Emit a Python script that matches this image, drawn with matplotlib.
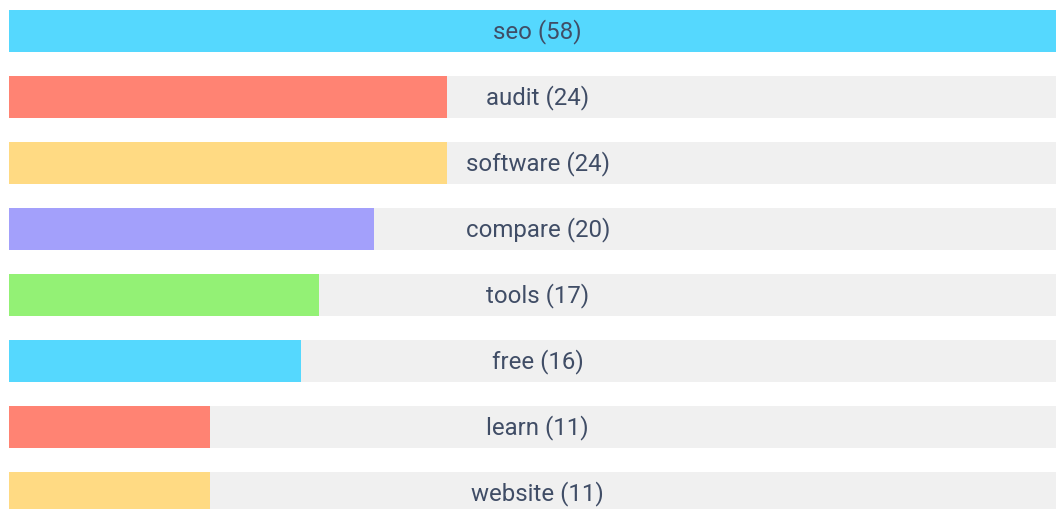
import matplotlib

matplotlib.use("Agg")
import matplotlib.pyplot as plt

plt.rcParams["font.family"] = ["Roboto", "DejaVu Sans"]

# keyword counts, top to bottom
KEYWORDS = ["seo", "audit", "software", "compare", "tools", "free", "learn", "website"]
COUNTS = [58, 24, 24, 20, 17, 16, 11, 11]

PALETTE = ["#55d8fe", "#ff8373", "#ffda83", "#a3a0fb", "#93f175"]
TRACK = "#f0f0f0"
TEXT = "#404d66"

fig = plt.figure(figsize=(10.56, 5.10), dpi=100)
ax = fig.add_axes([9 / 1056, 0, 1 - 9 / 1056, 1])

x_max = 57.4
bar_h = 42 / 66
rows = range(len(KEYWORDS))

ax.barh(list(rows), [x_max] * len(KEYWORDS), height=bar_h, color=TRACK, linewidth=0)
ax.barh(
    list(rows),
    COUNTS,
    height=bar_h,
    color=[PALETTE[i % len(PALETTE)] for i in rows],
    linewidth=0,
)
for i, (word, count) in zip(rows, zip(KEYWORDS, COUNTS)):
    ax.text(
        0.505,
        i,
        f"{word} ({count})",
        transform=ax.get_yaxis_transform(),
        ha="center",
        va="center",
        fontsize=17.3,
        color=TEXT,
    )

ax.set_xlim(0, x_max)
ax.set_ylim((510 - 31.8) / 66, -31.8 / 66)
ax.axis("off")
fig.patch.set_facecolor("white")
fig.savefig("out.png", dpi=100, facecolor="white")
